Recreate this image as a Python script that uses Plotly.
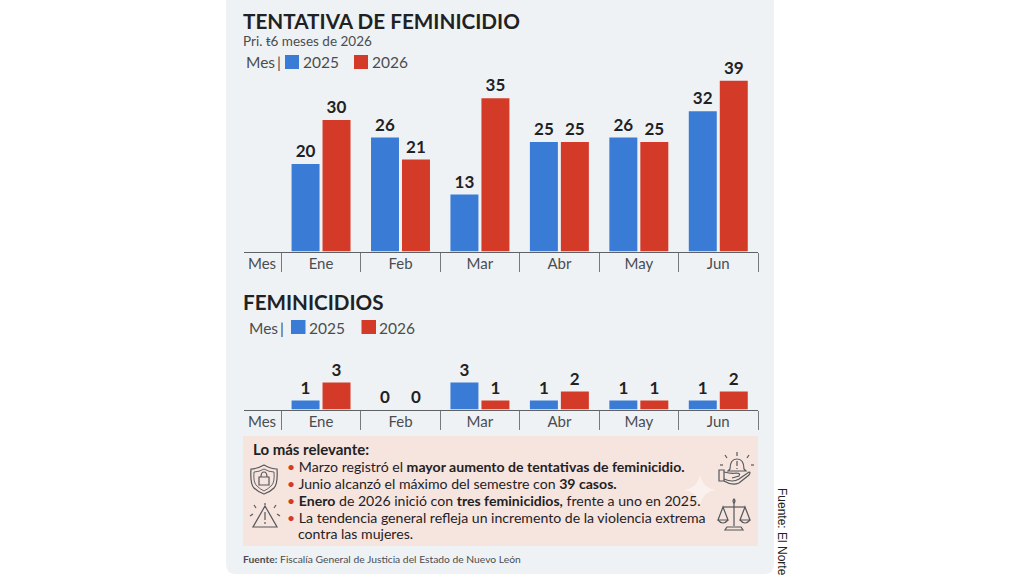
import re
import plotly.graph_objects as go

W, H = 1024, 576

# Monthly case counts
months = ["Ene", "Feb", "Mar", "Abr", "May", "Jun"]
tentativa_2025 = [20, 26, 13, 25, 26, 32]
tentativa_2026 = [30, 21, 35, 25, 25, 39]
feminicidios_2025 = [1, 0, 3, 1, 1, 1]
feminicidios_2026 = [3, 0, 1, 2, 1, 2]
series_names = ["2025", "2026"]

BLUE = "#3a7bd6"
RED = "#d43a28"
INK = "#1f2224"
GREY = "#4a4d50"
RULE = "#5f6265"
PANEL = "#eff2f4"
NOTE = "#f6e4df"
ICON = "#55575a"
FONT = "Lato"


def px(x):
    return x / W


def py(y):
    return 1 - y / H


def path(d):
    """Turn an SVG path written in page pixels into paper coordinates."""
    out, is_x = [], True
    for tok in re.findall(r"[MLQCZ]|-?\d+\.?\d*", d):
        if tok in "MLQCZ":
            out.append(tok)
            is_x = True
        else:
            out.append(f"{px(float(tok)):.5f}" if is_x else f"{py(float(tok)):.5f}")
            is_x = not is_x
    return " ".join(out)


def outline(d, width=1.2):
    return dict(type="path", xref="paper", yref="paper", path=path(d),
                line=dict(color=ICON, width=width), layer="above")


def filled(d, color, layer="below"):
    return dict(type="path", xref="paper", yref="paper", path=path(d),
                fillcolor=color, line=dict(width=0), layer=layer)


def label(x, y, text, size, color=INK, anchor="left", angle=0):
    # Left-anchored annotations carry about 2px of inner padding
    x_page = x - 2 if anchor == "left" else x
    return dict(xref="paper", yref="paper", x=px(x_page), y=py(y), text=text,
                xanchor=anchor, yanchor="middle", showarrow=False, textangle=angle,
                font=dict(family=FONT, size=size, color=color))


def box(x0, y0, x1, y1, color):
    return dict(type="rect", xref="paper", yref="paper", x0=px(x0), x1=px(x1),
                y0=py(y0), y1=py(y1), fillcolor=color, line=dict(width=0), layer="above")


fig = go.Figure()
x_pos = list(range(len(months)))

for vals, name, color, xa, ya in [
    (tentativa_2025, series_names[0], BLUE, "x", "y"),
    (tentativa_2026, series_names[1], RED, "x", "y"),
    (feminicidios_2025, series_names[0], BLUE, "x2", "y2"),
    (feminicidios_2026, series_names[1], RED, "x2", "y2"),
]:
    fig.add_trace(go.Bar(
        x=x_pos, y=vals, name=name, xaxis=xa, yaxis=ya, marker=dict(color=color, line=dict(width=0)),
        text=[str(v) for v in vals], textposition="outside", cliponaxis=False,
        textfont=dict(family=FONT, size=17, color=INK, weight="bold"),
        offsetgroup=name, showlegend=False,
    ))

# Category axis: a "Mes" header cell sits left of the six months
tick_vals = [-0.743] + x_pos
tick_text = ["Mes"] + months
dividers = [-0.5 + i for i in range(7)]
x_axis = dict(
    range=[-0.976, 5.5], domain=[px(243.5), px(758)], showgrid=False, zeroline=False,
    tickmode="array", tickvals=tick_vals, ticktext=tick_text, ticks="",
    ticklabelstandoff=-2, tickfont=dict(family=FONT, size=15, color=GREY),
    showline=True, linecolor=RULE, linewidth=1.3,
    minor=dict(tickmode="array", tickvals=dividers, ticks="outside", ticklen=19,
               tickwidth=1.2, tickcolor="#77797c", showgrid=False),
)
y_hidden = dict(visible=False, showgrid=False, zeroline=False)

fig.update_layout(
    width=W, height=H, margin=dict(l=0, r=0, t=0, b=0, pad=0),
    paper_bgcolor="white", plot_bgcolor="rgba(0,0,0,0)",
    barmode="group", bargap=0.22, bargroupgap=0.097, showlegend=False,
    font=dict(family=FONT),
    xaxis=x_axis,
    xaxis2=dict(x_axis, anchor="y2"),
    yaxis=dict(y_hidden, domain=[py(251.5), py(60)], range=[0, 191.5 / 4.38]),
    yaxis2=dict(y_hidden, domain=[py(409.5), py(350)], range=[0, 59.5 / 9], anchor="x2"),
)

shapes = [
    # Card and note backgrounds
    filled("M226 0 L774 0 L774 564 Q774 574 764 574 L236 574 Q226 574 226 564 Z", PANEL),
    filled("M243 436 L758 436 L758 546 L243 546 Z", NOTE),
    filled("M700 474 Q702 488 716 490 Q702 492 700 506 Q698 492 684 490 Q698 488 700 474 Z", "rgba(255,255,255,0.45)"),
    # Legend swatches
    box(285, 55, 299, 69, BLUE), box(354, 55, 368, 69, RED),
    box(291, 320, 305.5, 334, BLUE), box(361.5, 320, 376, 334, RED),
    # Shield with padlock
    outline("M264 465 Q271 469 277 469 Q278 484 274 488 Q270 492 264 494 Q258 492 254 488 Q250 484 251 469 Q257 469 264 465 Z"),
    outline("M264 469 Q269 472 274 472 Q275 483 271 486 Q268 489 264 491 Q260 489 257 486 Q253 483 254 472 Q259 472 264 469 Z", 0.9),
    outline("M259 477 L269 477 L269 485 L259 485 Z"),
    outline("M261 477 Q261 472 264 472 Q267 472 267 477"),
    # Warning triangle with rays
    outline("M265 506 L277 527 L253 527 Z"),
    outline("M265 512 L265 520"),
    outline("M265 522 L265 524"),
    outline("M253 514 L250 516"), outline("M256 508 L254 505"), outline("M265 505 L265 503"),
    outline("M274 508 L276 505"), outline("M277 514 L280 516"),
    # Alert bell over an open hand
    outline("M719 470 L724 470 L724 481 L719 481 Z"),
    outline("M724 472 Q732 474 736 473 Q741 473 739 476 L732 478 M724 479 Q733 483 739 479 L749 472 Q751 472 749 475 L739 483 Q732 486 724 481"),
    outline("M730 469 Q730 459 737 459 Q744 459 744 469 L746 471 L728 471 Z"),
    outline("M737 461 L737 466"), outline("M737 468 L737 469"),
    outline("M737 456 L737 452"), outline("M727 458 L725 455"), outline("M747 458 L749 455"),
    outline("M723 465 L720 465"), outline("M751 465 L754 465"),
    # Balance scale
    outline("M734 503 L734 526"), outline("M723 507 L745 507"),
    outline("M727 527 L741 527 L743 530 L725 530 Z"),
    outline("M723 507 L718 520 L728 520 Z"),
    outline("M745 507 L740 520 L750 520 Z"),
    outline("M718 520 Q723 526 728 520"), outline("M740 520 Q745 526 750 520"),
    outline("M734 499 Q736 501 734 503 Q732 501 734 499 Z"),
]
fig.update_layout(shapes=shapes)

bullet = f'<span style="color:{RED}">•</span> '
legend_mes = "Mes\u2009|"
annotations = [
    label(243, 20.5, "<b>TENTATIVA DE FEMINICIDIO</b>", 20.7),
    label(243, 40.5, "Pri. ŧ6 meses de 2026", 13.5, GREY),
    label(245.5, 62, legend_mes, 15.5, GREY),
    label(302.5, 62, series_names[0], 15.5, GREY),
    label(371.5, 62, series_names[1], 15.5, GREY),
    label(243, 302, "<b>FEMINICIDIOS</b>", 20.6),
    label(248.5, 327.5, legend_mes, 15.5, GREY),
    label(308.5, 327.5, series_names[0], 15.5, GREY),
    label(379, 327.5, series_names[1], 15.5, GREY),
    label(253, 449, "<b>Lo más relevante:</b>", 15),
    label(287, 466, bullet + "Marzo registró el <b>mayor aumento de tentativas de feminicidio.</b>", 14.1),
    label(287, 483, bullet + "Junio alcanzó el máximo del semestre con <b>39 casos.</b>", 14.1),
    label(287, 500, bullet + "<b>Enero</b> de 2026 inició con <b>tres feminicidios,</b> frente a uno en 2025.", 14.1),
    label(287, 517, bullet + "La tendencia general refleja un incremento de la violencia extrema", 14.1),
    label(298, 533, "contra las mujeres.", 14.1),
    label(243, 559, "<b>Fuente:</b> Fiscalía General de Justicia del Estado de Nuevo León", 10.3, GREY),
    dict(label(782, 532, "Fuente: El Norte", 12, "#222", anchor="center", angle=90),
         font=dict(family="Liberation Sans", size=12, color="#222")),
]
fig.update_layout(annotations=annotations)

fig.write_html("out.html")
